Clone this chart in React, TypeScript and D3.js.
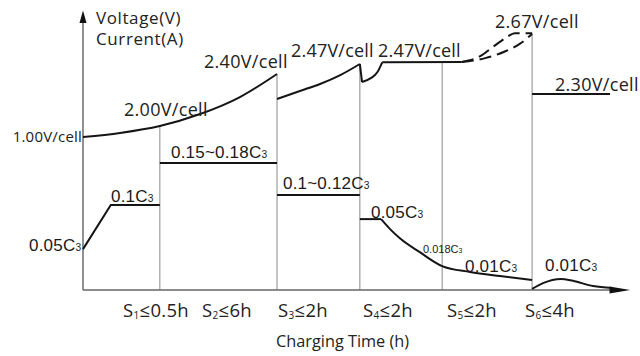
import React from "react";
import * as d3 from "d3";

// ---- data (schematic units: time t 0..100, level v 0..100) ----
const sectionBounds = [14.1, 35.6, 50.8, 65.9, 82.4];
const sectionTops = [59.0, 77.7, 81.3, 82.0, 92.4];
const sectionLabels = ["1", "2", "3", "4", "5", "6"];
const sectionDurations = ["0.5h", "6h", "2h", "2h", "2h", "4h"];

const voltageSeg1 = [[0, 55.0], [6.8, 56.5], [14.1, 59.0], [21.5, 63.3], [28.8, 69.4], [35.6, 77.7]];
const voltageSeg2 = [[35.6, 68.7], [39.8, 71.6], [43.5, 74.1], [47.2, 77.3], [50.8, 81.3]];
const voltageDrop2 = [[50.8, 81.3], [51.2, 74.8]];
const voltageSeg3 = [[51.2, 74.8], [52.8, 76.2], [54.0, 78.3], [54.9, 81.9]];
const voltageFlat = [[54.9, 81.9], [69.5, 82.0]];
const voltageDashUpper = [[69.5, 82.0], [72.8, 84.0], [75.6, 88.0], [77.8, 91.0], [79.2, 92.4], [82.4, 92.4]];
const voltageDashLower = [[69.5, 82.0], [73.8, 83.4], [77.4, 85.8], [80.2, 88.6], [82.4, 92.1]];
const voltageFloat = [[82.4, 70.5], [96.7, 70.5]];

const currentSeg1 = [[0, 14.7], [5.1, 30.6], [14.1, 30.6]];
const currentSeg2 = [[14.1, 45.7], [35.6, 45.7]];
const currentSeg3 = [[35.6, 34.2], [50.8, 34.2]];
const currentSeg4 = [[50.8, 25.5], [54.7, 25.5]];
const currentDecay = [[54.7, 25.5], [56.3, 22.0], [58.2, 18.5], [61.8, 13.6], [65.9, 8.6], [71.0, 6.5], [76.5, 5.0], [82.4, 3.6]];
const currentBump = [[82.4, 0.4], [84.4, 2.5], [87.7, 4.0], [89.9, 3.3], [93.6, 1.4], [97.1, 0.7]];

const voltageTexts = ["1.00V/cell", "2.00V/cell", "2.40V/cell", "2.47V/cell", "2.47V/cell", "2.67V/cell", "2.30V/cell"];
const currentTexts = ["0.05", "0.1", "0.15~0.18", "0.1~0.12", "0.05", "0.01", "0.01"];

const W = 640, H = 356;
const x = d3.scaleLinear().domain([0, 100]).range([83, 628]);
const y = d3.scaleLinear().domain([0, 100]).range([290, 12]);

const lineLin = d3.line<number[]>().x(d => x(d[0])).y(d => y(d[1]));
const lineCurve = d3.line<number[]>().x(d => x(d[0])).y(d => y(d[1])).curve(d3.curveMonotoneX);

const OPEN = "'Open Sans', 'Noto Sans', sans-serif";
const ARIAL = "'Liberation Sans', Arial, sans-serif";

const CText = ({ px, py, label, size = 17 }: { px: number; py: number; label: string; size?: number }) => (
  <text x={px} y={py} fontFamily={ARIAL} fontSize={size} fill="#1a1a1a" letterSpacing={0.2}>
    {label}C<tspan fontSize={size * 0.6}>3</tspan>
  </text>
);

export default function App() {
  const ink = "#151515";
  return (
    <svg width={W} height={H} style={{ position: "absolute", left: 0, top: 0, background: "#fff" }}>
      {/* section grid lines */}
      {sectionBounds.map((b, i) => (
        <line key={i} x1={x(b)} x2={x(b)} y1={y(0)} y2={y(sectionTops[i])} stroke="#8a8a8a" strokeWidth={1} />
      ))}
      {/* axes */}
      <line x1={x(0)} x2={x(0)} y1={y(0)} y2={y(97)} stroke="#555" strokeWidth={1.3} />
      <path d={`M${x(0)},${y(100.5)} L${x(0) - 3.5},${y(96)} L${x(0) + 3.5},${y(96)} Z`} fill="#111" />
      <line x1={x(0)} x2={x(98)} y1={y(0)} y2={y(0)} stroke="#666" strokeWidth={1.3} />
      <path d={`M${x(100.4)},${y(0)} L${x(96.6)},${y(-1.3)} L${x(96.6)},${y(1.3)} Z`} fill="#111" />

      {/* voltage */}
      <g fill="none" stroke={ink} strokeWidth={2}>
        <path d={lineCurve(voltageSeg1) || ""} />
        <path d={lineCurve(voltageSeg2) || ""} />
        <path d={lineLin(voltageDrop2) || ""} />
        <path d={lineCurve(voltageSeg3) || ""} />
        <path d={lineLin(voltageFlat) || ""} />
        <path d={lineCurve(voltageDashUpper) || ""} strokeDasharray="12,6" />
        <path d={lineCurve(voltageDashLower) || ""} strokeDasharray="12,6" />
        <path d={lineLin(voltageFloat) || ""} />
      </g>
      {/* current */}
      <g fill="none" stroke={ink} strokeWidth={2}>
        <path d={lineLin(currentSeg1) || ""} />
        <path d={lineLin(currentSeg2) || ""} />
        <path d={lineLin(currentSeg3) || ""} />
        <path d={lineLin(currentSeg4) || ""} />
        <path d={lineCurve(currentDecay) || ""} />
        <path d={lineCurve(currentBump) || ""} />
      </g>

      {/* axis titles */}
      <g fontFamily={OPEN} fontSize={17} fill="#222">
        <text x={96} y={24} letterSpacing={0.6}>Voltage(V)</text>
        <text x={96} y={45} letterSpacing={0.6}>Current(A)</text>
      </g>

      {/* voltage labels */}
      <g fontFamily={OPEN} fill="#222">
        <text x={82} y={142} fontSize={15} textAnchor="end" letterSpacing={0.2}>{voltageTexts[0]}</text>
        <text x={124} y={116} fontSize={18} letterSpacing={0.3}>{voltageTexts[1]}</text>
        <text x={204} y={68} fontSize={18} letterSpacing={0.3}>{voltageTexts[2]}</text>
        <text x={291} y={57} fontSize={18} letterSpacing={0.2}>{voltageTexts[3]}</text>
        <text x={378} y={57} fontSize={18} letterSpacing={0.2}>{voltageTexts[4]}</text>
        <text x={495} y={28} fontSize={18} letterSpacing={0.3}>{voltageTexts[5]}</text>
        <text x={555} y={91} fontSize={18} letterSpacing={0.3}>{voltageTexts[6]}</text>
      </g>

      {/* current labels */}
      <CText px={29} py={251} label={currentTexts[0]} />
      <CText px={111} py={202} label={currentTexts[1]} />
      <CText px={171} py={158} label={currentTexts[2]} />
      <CText px={283} py={189} label={currentTexts[3]} />
      <CText px={371} py={218} label={currentTexts[4]} />
      <text x={423} y={253} fontFamily={ARIAL} fontSize={11} fill="#1a1a1a">
        0.018C<tspan fontSize={7}>3</tspan>
      </text>
      <CText px={465} py={272} label={currentTexts[5]} />
      <CText px={545} py={271} label={currentTexts[6]} />

      {/* section labels */}
      <g fontFamily={OPEN} fontSize={18.5} fill="#222">
        {[123, 202, 278, 363, 447, 525].map((px, i) => (
          <text key={i} x={px} y={317} letterSpacing={0.3}>
            S<tspan fontSize={10} dy={2}>{sectionLabels[i]}</tspan>
            <tspan dy={-2}>≤{sectionDurations[i]}</tspan>
          </text>
        ))}
      </g>
      <text x={276} y={347} fontFamily={OPEN} fontSize={16.3} fill="#222">Charging Time (h)</text>
    </svg>
  );
}
